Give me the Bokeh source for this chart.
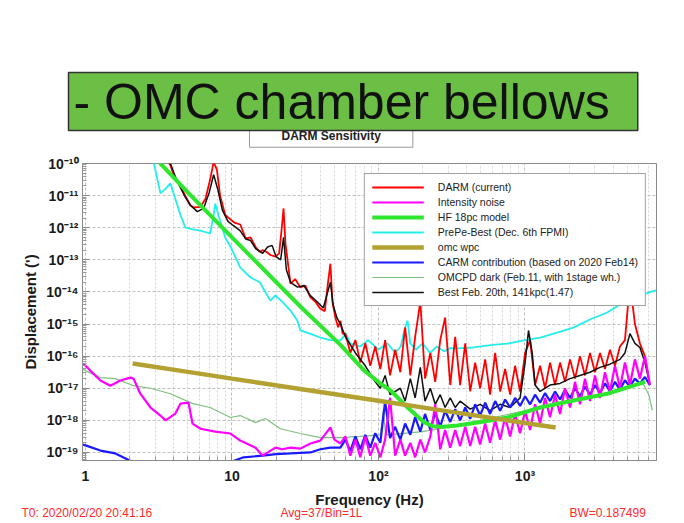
import numpy as np
from bokeh.plotting import figure
from bokeh.models import Range1d, FixedTicker, Legend, LegendItem, Title
from bokeh.embed import file_html
from bokeh.resources import INLINE

# ---------------- data (values are log10 of displacement) -------------
x_ticks = [1, 10, 100, 1000]
x_tick_labels = ["1", "10", "10²", "10³"]
y_ticks = [1e-19, 1e-18, 1e-17, 1e-16, 1e-15, 1e-14, 1e-13, 1e-12, 1e-11, 1e-10]
y_tick_labels = ["10⁻¹⁹", "10⁻¹⁸", "10⁻¹⁷", "10⁻¹⁶", "10⁻¹⁵", "10⁻¹⁴", "10⁻¹³", "10⁻¹²", "10⁻¹¹", "10⁻¹⁰"]

legend_labels = [
    "DARM (current)",
    "Intensity noise",
    "HF 18pc model",
    "PrePe-Best (Dec. 6th FPMI)",
    "omc wpc",
    "CARM contribution (based on 2020 Feb14)",
    "OMCPD dark (Feb.11, with 1stage wh.)",
    "Best Feb. 20th, 141kpc(1.47)",
]

# frequencies of the densely sampled high-frequency part (Hz)
hf_grid = [59.5, 64.3, 69.6, 75.2, 81.3, 87.9, 95.1, 103, 111, 120, 130, 141, 152, 165, 178, 193, 208,
           226, 244, 264, 285, 309, 334, 361, 391, 423, 457, 494, 535, 578, 626, 677, 732, 792, 856, 926,
           1002, 1084, 1172, 1268, 1371, 1483, 1604, 1735, 1876, 2030, 2195, 2374, 2568, 2778, 3005, 3250,
           3515, 3802, 4112, 4448, 4811, 5204, 5628, 6088, 6585, 7123]

darm_f = [3.6, 3.8, 4.1, 4.45, 4.8, 5.2, 5.5, 6.1, 6.6, 7.1, 7.5, 7.9, 8.3, 9.0, 9.8, 10.5, 11.4, 12.4,
          13.4, 14.5, 15.5, 16.2, 17.2, 18.3, 19.8, 21.0, 22.0, 22.5, 23.2, 25.1, 27, 29.3, 31.7, 34.3,
          37, 40.1, 43, 45, 47, 48.5, 50.8, 53, 55, 57] + hf_grid
darm_log = [-9.9, -10.05, -10.5, -10.69, -11.0, -11.3, -11.37, -11.35, -11.1, -10.5, -9.95, -10.2, -11.0,
            -11.6, -11.75, -11.85, -11.9, -12.33, -12.3, -12.6, -12.75, -12.7, -12.75, -12.85, -12.9, -12.8,
            -11.9, -11.4, -12.5, -13.74, -13.6, -13.86, -13.8, -14.17, -14.3, -14.52, -14.6, -13.8, -13.12,
            -14.3, -14.8, -15.1, -14.9, -15.3,
            -15.3, -15.9, -15.5, -16.2, -15.6, -16.3, -15.7, -16.4, -15.5, -16.6, -15.8, -16.5, -15.1, -16.6,
            -15.4, -14.3, -16.7, -15.9, -16.8, -15.5, -14.8, -16.9, -15.4, -16.9, -15.6, -17.1, -16.2, -17.0,
            -16.1, -17.2, -15.9, -17.1, -16.4, -17.2, -16.3, -17.1, -15.9, -15.5, -16.9, -16.3, -17.0, -16.2,
            -16.9, -16.2, -16.8, -16.1, -16.7, -16.0, -16.6, -15.9, -16.5, -15.9, -16.4, -15.8, -16.3, -15.7,
            -15.5, -13.7, -15.0, -15.6, -16.0, -16.9]

best_f = [3.8, 4.1, 4.45, 4.8, 5.2, 5.8, 6.4, 7.0, 7.5, 8.0, 8.6, 9.4, 10.2, 11.4, 12.4, 13.4, 14.5, 16.2,
          17.5, 18.8, 20, 21.5, 22.5, 23.5, 25.1, 28, 31, 34, 38, 42, 45, 47, 49, 52, 55, 59.5, 69.6, 81.3,
          95.1, 103, 111, 120, 141, 152, 165, 178, 193, 208, 226, 244, 264, 285, 309, 334, 361, 423, 494,
          578, 677, 792, 926, 1002, 1057, 1120, 1172, 1268, 1483, 1735, 2030, 2374, 2778, 3250, 3802, 4448,
          4811, 5204, 5628, 6088, 6585, 6950]
best_log = [-10.0, -10.4, -10.75, -11.05, -11.3, -11.5, -11.4, -10.9, -10.35, -10.8, -11.45, -11.8, -11.93,
            -12.1, -12.35, -12.4, -12.65, -12.8, -12.6, -12.55, -12.9, -13.0, -12.3, -13.3, -13.7, -13.85,
            -13.8, -14.1, -14.3, -14.5, -14.0, -13.7, -14.4, -14.8, -15.0, -15.4, -15.9, -16.3, -16.8, -17.0,
            -16.6, -17.2, -17.0, -17.4, -16.7, -17.3, -16.35, -17.4, -17.0, -17.5, -17.2, -17.6, -17.3, -17.6,
            -17.4, -17.65, -17.5, -17.7, -17.5, -17.6, -17.3, -16.2, -15.2, -15.9, -16.9, -17.1, -16.9,
            -16.85, -16.7, -16.6, -16.5, -16.35, -16.25, -16.1, -15.9, -15.3, -15.6, -15.73, -16.2, -16.67]

prepe_f = [2.9, 3.0, 3.25, 3.5, 3.8, 4.1, 4.45, 4.81, 5.4, 6.1, 7.1, 7.5, 7.7, 8.2, 9.0, 9.8, 11.4, 13.4,
           15.5, 16.2, 18.3, 19.8, 22, 25.1, 28, 29.3, 34, 40.1, 47, 55, 60, 64, 75, 85, 100, 115, 130, 142,
           150, 158, 165, 180, 200, 225, 250, 280, 310, 345, 445, 600, 760, 1000, 1271, 1700, 2140, 2800,
           3640, 4690, 6000, 7170, 7900]
prepe_log = [-9.9, -10.2, -10.93, -10.8, -10.62, -11.09, -11.6, -12.0, -12.05, -12.09, -12.18, -11.6, -11.25,
             -11.7, -12.31, -12.6, -13.24, -13.55, -13.7, -13.86, -14.27, -14.11, -14.3, -14.58, -14.9, -15.2,
             -15.3, -15.42, -15.5, -15.51, -15.3, -15.6, -15.7, -15.5, -15.8, -15.6, -15.9, -15.7, -15.2,
             -14.89, -15.6, -15.8, -15.6, -15.9, -15.7, -15.85, -15.75, -15.76, -15.73, -15.65, -15.61, -15.5,
             -15.42, -15.25, -15.11, -14.85, -14.64, -14.33, -14.15, -14.0, -13.95]

inten_f = [0.954, 1.0, 1.08, 1.266, 1.48, 1.73, 2.03, 2.13, 2.37, 2.78, 3.25, 3.52, 4.11, 4.45, 5.05, 5.38,
           6.1, 7.7, 9.77, 11.4, 14.5, 16.2, 19.8, 22, 25.1, 29.3, 34.3, 40.1, 47, 50, 55] + hf_grid
inten_log = [-16.25, -16.29, -16.45, -16.76, -16.92, -16.76, -16.67, -16.7, -17.17, -17.6, -17.85, -18.0,
             -17.79, -17.48, -17.45, -18.1, -18.26, -18.35, -18.41, -18.63, -18.85, -19.1, -18.85, -18.9,
             -18.85, -18.88, -18.72, -18.63, -18.22, -18.6, -18.72,
             -18.5, -19.1, -18.6, -19.15, -18.5, -19.1, -18.7, -19.15, -18.6, -17.3, -19.1, -18.6, -19.1,
             -18.7, -19.15, -18.6, -19.0, -18.5, -17.5, -18.9, -18.3, -18.85, -18.3, -18.8, -18.2, -18.8,
             -18.2, -18.75, -18.1, -18.7, -18.0, -18.6, -17.9, -18.5, -17.8, -18.4, -17.7, -18.3, -17.5,
             -18.1, -17.3, -17.9, -17.2, -17.8, -17.0, -17.6, -16.8, -17.5, -16.7, -17.4, -16.6, -17.3,
             -16.5, -17.1, -16.3, -17.0, -16.2, -16.9, -16.1, -16.7, -16.0, -16.9]

carm_f = [0.954, 1.0, 1.266, 1.6, 1.88, 2.1, 2.5, 5.0, 8.0, 9.77, 12, 16.2, 20, 25.1, 34.3, 40.1, 47,
          55] + hf_grid
carm_log = [-18.75, -18.78, -18.94, -19.03, -19.19, -19.3, -19.5, -19.6, -19.4, -19.3, -19.15, -19.1, -19.05,
            -19.03, -19.0, -18.9, -18.85, -18.85,
            -18.6, -18.95, -18.5, -18.9, -18.45, -18.85, -18.4, -18.7, -17.4, -18.55, -18.2, -18.6, -18.1,
            -18.45, -17.9, -18.35, -17.8, -18.3, -17.75, -18.2, -17.7, -18.05, -17.65, -18.0, -17.6, -17.95,
            -17.5, -17.85, -17.45, -17.8, -17.4, -17.7, -17.35, -17.6, -17.3, -17.55, -17.25, -17.5, -17.2,
            -17.45, -17.15, -17.4, -17.1, -17.35, -17.05, -17.3, -17.0, -17.25, -16.95, -17.2, -16.9, -17.15,
            -16.85, -17.1, -16.8, -17.05, -16.75, -16.95, -16.7, -16.85, -16.65, -16.9]

hf_f = [3.0, 3.25, 5, 10, 20, 30, 55, 80, 103, 121, 158, 204, 233, 280, 345, 500, 760, 1270, 2140, 3640,
        6130, 6600]
hf_log = [-9.8, -10.0, -10.9, -12.3, -13.69, -14.5, -15.65, -16.45, -16.85, -17.07, -17.6, -18.05, -18.18,
          -18.2, -18.16, -18.05, -17.91, -17.6, -17.38, -17.17, -16.85, -16.8]

omc_f = [2.1, 5, 10, 30, 100, 300, 1000, 1620]
omc_log = [-16.23, -16.49, -16.70, -17.03, -17.39, -17.72, -18.08, -18.22]

dark_f = [0.954, 1.0, 1.266, 1.6, 2.13, 2.78, 3.8, 5.4, 7.1, 9.77, 11.4, 14.5, 16.9, 21.4, 29.3, 40.1, 55,
          75, 103, 108, 112, 142, 200, 300, 500, 1000, 2000, 4000, 6400, 7000, 7400]
dark_log = [-16.4, -16.45, -16.67, -16.7, -16.92, -17.0, -17.17, -17.48, -17.6, -17.91, -17.85, -18.07,
            -17.94, -18.26, -18.41, -18.54, -18.54, -18.5, -18.45, -17.69, -18.45, -18.41, -18.35, -18.2,
            -18.0, -17.7, -17.4, -17.1, -16.85, -17.2, -17.69]

bottom_texts = ["T0: 2020/02/20 20:41:16", "Avg=37/Bin=1L", "BW=0.187499"]

# ---------------- figure ----------------
FONT = "Liberation Sans"
p = figure(width=684, height=523, x_axis_type="log", y_axis_type="log",
           x_range=Range1d(0.955, 7900), y_range=Range1d(10 ** -19.25, 1e-10),
           output_backend="svg", toolbar_location=None,
           min_border_left=82, min_border_right=28, min_border_top=163, min_border_bottom=63,
           background_fill_color="white", border_fill_color="white")
p.outline_line_color = "#8a8a8a"

x_minor = [m * 10.0 ** d for d in range(-1, 4) for m in range(2, 10)]
y_minor = [m * 10.0 ** d for d in range(-20, -10) for m in range(2, 10)]
p.xaxis.ticker = FixedTicker(ticks=x_ticks, minor_ticks=x_minor)
p.yaxis.ticker = FixedTicker(ticks=y_ticks, minor_ticks=y_minor)
p.xaxis.major_label_overrides = dict(zip(x_ticks, x_tick_labels))
p.yaxis.major_label_overrides = dict(zip(y_ticks, y_tick_labels))

for ax in (p.xaxis[0], p.yaxis[0]):
    ax.axis_line_color = "#8a8a8a"
    ax.major_tick_line_color = "#8a8a8a"
    ax.minor_tick_line_color = "#9a9a9a"
    ax.major_tick_in = 7
    ax.major_tick_out = 0
    ax.minor_tick_in = 4
    ax.minor_tick_out = 0
    ax.major_label_text_font = FONT
    ax.major_label_text_font_style = "bold"
    ax.major_label_text_font_size = "14px"
    ax.major_label_text_color = "#1a1a1a"
    ax.axis_label_text_font = FONT
    ax.axis_label_text_font_style = "bold"
    ax.axis_label_text_font_size = "15px"
    ax.axis_label_text_color = "#1a1a1a"

p.yaxis.axis_label = "Displacement (')"
p.xaxis.major_label_standoff = 7
p.yaxis.major_label_standoff = 4
p.yaxis.axis_label_standoff = 4

p.xgrid.grid_line_color = "#c0c0c0"
p.xgrid.grid_line_dash = "3 2"
p.xgrid.minor_grid_line_color = "#d4d4d4"
p.xgrid.minor_grid_line_dash = "2 2"
p.ygrid.grid_line_color = "#c0c0c0"
p.ygrid.grid_line_dash = "3 2"

def pw(a):
    return 10.0 ** np.array(a)

r_dark = p.line(dark_f, pw(dark_log), line_color="#7fbf7f", line_width=1.2)
r_prepe = p.line(prepe_f, pw(prepe_log), line_color="#22eeee", line_width=1.8)
r_darm = p.line(darm_f, pw(darm_log), line_color="#ff0000", line_width=1.8)
r_best = p.line(best_f, pw(best_log), line_color="#111111", line_width=1.5)
r_carm = p.line(carm_f, pw(carm_log), line_color="#1a1aff", line_width=2.2)
r_inten = p.line(inten_f, pw(inten_log), line_color="#ff00ff", line_width=2.2)
r_hf = p.line(hf_f, pw(hf_log), line_color="#2ee62e", line_width=4)
r_omc = p.line(omc_f, pw(omc_log), line_color="#b3a232", line_width=4.5)

renderers = [r_darm, r_inten, r_hf, r_prepe, r_omc, r_carm, r_dark, r_best]
legend = Legend(items=[LegendItem(label=l, renderers=[r]) for l, r in zip(legend_labels, renderers)],
                location="top_right", margin=10, padding=7, spacing=3,
                glyph_width=52, glyph_height=12, label_height=12, label_standoff=14,
                label_text_font=FONT, label_text_font_size="10.5px", label_text_color="#222222",
                border_line_color="#444444", border_line_width=1.5,
                background_fill_color="white", background_fill_alpha=1.0)
p.add_layout(legend)


def make_title(text, standoff, **kw):
    t = Title(text=text, **kw)
    try:
        t.standoff = standoff
    except Exception:
        t.standoff = 0
    return t

# title box just above the frame, slide's green banner above it (side-panel annotations are not clipped)
t_darm = make_title("DARM Sensitivity", 27.5, align="left", vertical_align="top", offset=167,
                    text_font=FONT, text_font_style="bold", text_font_size="12px", text_color="#222222",
                    background_fill_color="white", border_line_color="#9a9a9a", border_line_width=1,
                    padding=dict(left=32, right=32, top=4, bottom=4))
p.add_layout(t_darm, "above")
t_green = make_title("- OMC chamber bellows", -42, align="left", vertical_align="top", offset=-14,
                     text_font=FONT, text_font_style="normal", text_font_size="50px", text_color="#111111",
                     background_fill_color="#6cbf45", border_line_color="#333333", border_line_width=1.5,
                     padding=dict(left=5, right=28, top=1, bottom=1))
p.add_layout(t_green, "above")

# x-axis label as a title below the tick labels, then the red status line of the screenshot
p.add_layout(make_title("Frequency (Hz)", 8, align="center", vertical_align="top",
                        text_font=FONT, text_font_style="bold", text_font_size="15px",
                        text_color="#1a1a1a"), "below")
for txt, off in zip(bottom_texts, [-61, 198, 487]):
    p.add_layout(make_title(txt, -16, align="left", vertical_align="top", offset=off,
                            text_font=FONT, text_font_style="normal", text_font_size="12px",
                            text_color="#ff2a2a"), "below")

open("out.html", "w").write(file_html(p, INLINE))
